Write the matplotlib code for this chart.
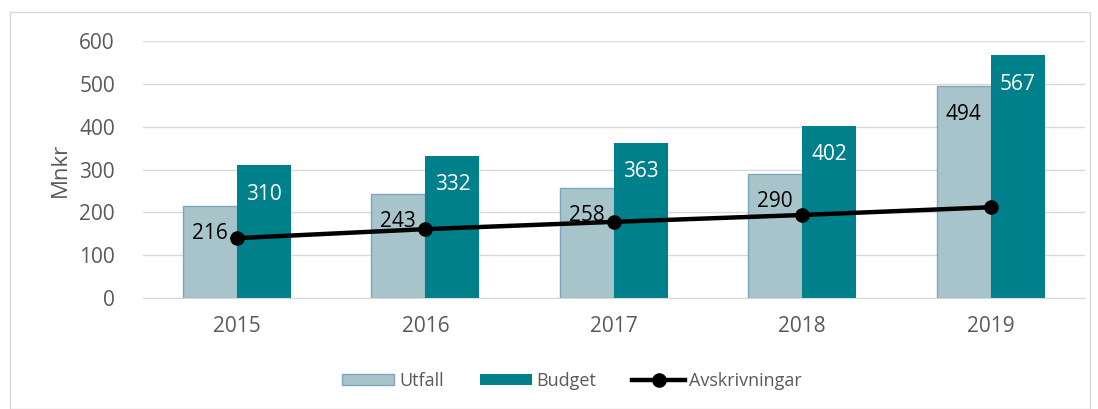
import numpy as np
import matplotlib.pyplot as plt
from matplotlib.patches import Rectangle

plt.rcParams['font.family'] = ['Open Sans', 'DejaVu Sans']

# data
years = ['2015', '2016', '2017', '2018', '2019']
utfall = [216, 243, 258, 290, 494]
budget = [310, 332, 363, 402, 567]
avskrivningar = [140, 161, 178, 194, 212]

c_utfall = '#A8C4CB'
c_utfall_edge = '#7DA5BF'
c_budget = '#00808A'
c_text = '#595959'

fig = plt.figure(figsize=(10.98, 4.09), dpi=100)
ax = fig.add_axes([0.130, 0.271, 0.858, 0.629])

x = np.arange(len(years))
w = 0.287

b1 = ax.bar(x - w / 2, utfall, w, color=c_utfall, edgecolor=c_utfall_edge,
            linewidth=1, label='Utfall', zorder=2)
b2 = ax.bar(x + w / 2, budget, w, color=c_budget, label='Budget', zorder=2)
ax.plot(x, avskrivningar, color='black', linewidth=3.2, marker='o',
        markersize=9.5, label='Avskrivningar', zorder=4)

# inside-end labels
for xi, v in zip(x, utfall):
    ax.annotate(str(v), (xi - w / 2, v), xytext=(0, -28), textcoords='offset pixels',
                ha='center', va='center', fontsize=15, color='black', zorder=5)
for xi, v in zip(x, budget):
    ax.annotate(str(v), (xi + w / 2, v), xytext=(0, -29), textcoords='offset pixels',
                ha='center', va='center', fontsize=15, color='white', zorder=5)

ax.set_xlim(-0.5, len(years) - 0.5)
ax.set_ylim(0, 600)
ax.set_yticks(range(0, 601, 100))
ax.set_xticks(x)
ax.set_xticklabels(years)
ax.tick_params(axis='both', length=0, labelsize=15, labelcolor=c_text)
ax.tick_params(axis='x', pad=13)
ax.tick_params(axis='y', pad=20)
ax.grid(axis='y', color='#D9D9D9', linewidth=1, zorder=0)
ax.set_axisbelow(True)
for s in ['top', 'right', 'left']:
    ax.spines[s].set_visible(False)
ax.spines['bottom'].set_color('#D9D9D9')
ax.set_ylabel('Mnkr', fontsize=16, color=c_text, labelpad=6)

fig.legend(handles=[b1, b2, ax.lines[0]], loc='center', bbox_to_anchor=(0.521, 0.068),
           ncol=3, frameon=False, fontsize=13, handlelength=2.9, handleheight=0.55,
           columnspacing=2.0, handletextpad=0.25, labelcolor=c_text)

fig.patches.append(Rectangle((10 / 1098, 0), 1080 / 1098, 1 - 12 / 409,
                             transform=fig.transFigure, fill=False,
                             edgecolor='#D9D9D9', linewidth=1))

fig.savefig('out.png', dpi=100)
